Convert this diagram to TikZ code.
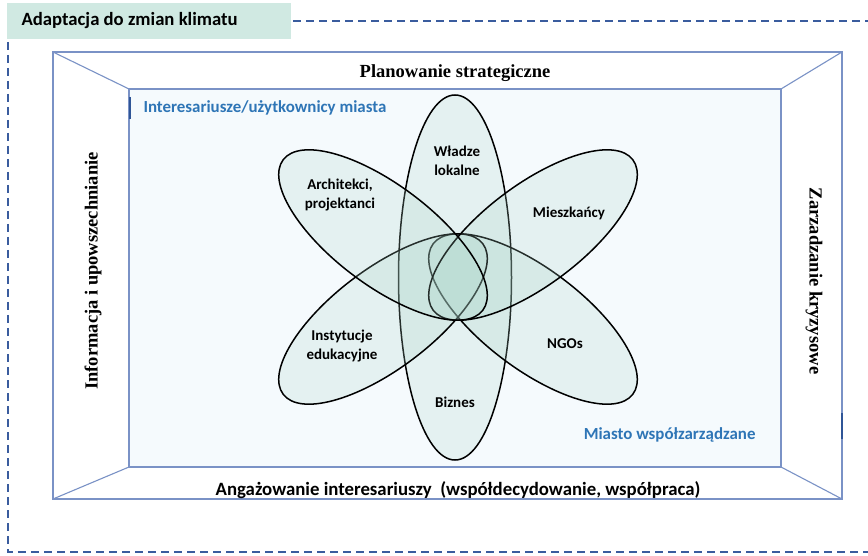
\documentclass[tikz,border=0pt]{standalone}
\usepackage{fontspec}
\setmainfont{Liberation Serif}
\newfontfamily\calfont{Carlito}
\definecolor{framebl}{HTML}{7A92C6}
\definecolor{dashbl}{HTML}{3A5C9E}
\definecolor{titlefill}{HTML}{D0E9E2}
\definecolor{innerfill}{HTML}{F5FAFD}
\definecolor{petalfill}{HTML}{A9D4C8}
\definecolor{labelbl}{HTML}{2E75B6}
\definecolor{tickbl}{HTML}{2F5597}
\tikzset{
  frameline/.style={draw=framebl, line width=1.1pt},
  dashline/.style={draw=dashbl, line width=1.8pt, dash pattern=on 8pt off 5pt},
  petal/.style={draw=black, line width=1.5pt, fill=petalfill, fill opacity=0.22},
  petallabel/.style={font=\calfont\bfseries\fontsize{15}{19}\selectfont, align=center, text=black},
  sidelabel/.style={font=\bfseries\fontsize{18.5}{21}\selectfont, text=black},
  bluelabel/.style={font=\calfont\bfseries\fontsize{16.9}{19}\selectfont, text=labelbl},
  tick/.style={draw=tickbl, line width=2pt}
}
\begin{document}
\begin{tikzpicture}[x=1pt, y=-1pt]
\useasboundingbox (0,0) rectangle (868,556);
% title box
\node[fill=titlefill, minimum width=284pt, minimum height=36pt, inner sep=0pt, anchor=north west] (title) at (7,3) {};
\node[font=\calfont\bfseries\fontsize{18.7}{21}\selectfont, anchor=west] (titletext) at (18,21) {Adaptacja do zmian klimatu};
% dashed frame
\coordinate (d1) at (293,21);
\coordinate (d2) at (868,21);
\coordinate (d3) at (8,42);
\coordinate (d4) at (8,552);
\coordinate (d5) at (868,552);
\draw[dashline] (d1) -- (d2);
\draw[dashline] (d3) -- (d4) -- (d5);
% outer box and inner box
\coordinate (o1) at (53,52);
\coordinate (o2) at (842,52);
\coordinate (o3) at (842,499);
\coordinate (o4) at (53,499);
\coordinate (i1) at (129,89);
\coordinate (i2) at (781,89);
\coordinate (i3) at (781,467);
\coordinate (i4) at (129,467);
\draw[frameline, fill=white] (o1) -- (o2) -- (o3) -- (o4) -- cycle;
\draw[frameline, fill=innerfill] (i1) -- (i2) -- (i3) -- (i4) -- cycle;
\draw[frameline] (o1) -- (i1);
\draw[frameline] (o2) -- (i2);
\draw[frameline] (o3) -- (i3);
\draw[frameline] (o4) -- (i4);
% small ticks
\coordinate (t1) at (129.5,97);
\coordinate (t2) at (129.5,119);
\coordinate (t3) at (842,413);
\coordinate (t4) at (842,439);
\draw[tick] (t1) -- (t2);
\draw[tick] (t3) -- (t4);
% side labels
\node[sidelabel] (plan) at (455,73) {Planowanie strategiczne};
\node[sidelabel, rotate=90] (info) at (93,271) {Informacja i upowszechnianie};
\node[sidelabel, rotate=-90] (zarz) at (814,281) {Zarzadzanie kryzysowe};
\node[font=\calfont\bfseries\fontsize{18.8}{21}\selectfont] (anga) at (458,490) {Anga\.zowanie interesariuszy\ \ (wsp\'o\l{}decydowanie, wsp\'o\l{}praca)};
\node[bluelabel, anchor=west] (inter) at (140,108) {Interesariusze/u\.zytkownicy miasta};
\node[bluelabel, anchor=east] (miasto) at (759,435) {Miasto wsp\'o\l{}zarz\k{a}dzane};
% petals
\draw[petal] (455,277.5) ellipse [x radius=56.5pt, y radius=182.5pt];
\draw[petal, shift={(533,319)}, rotate=-37] (0,0) ellipse [x radius=125pt, y radius=50pt];
\draw[petal, shift={(383,319)}, rotate=37] (0,0) ellipse [x radius=125pt, y radius=50pt];
\draw[petal, shift={(533,235)}, rotate=37] (0,0) ellipse [x radius=125pt, y radius=50pt];
\draw[petal, shift={(383,235)}, rotate=-37] (0,0) ellipse [x radius=125pt, y radius=50pt];
% petal labels
\node[petallabel] (wladze) at (457,161) {W\l{}adze\\lokalne};
\node[petallabel] (arch) at (340,195) {Architekci,\\projektanci};
\node[petallabel] (miesz) at (569,213) {Mieszka\'ncy};
\node[petallabel] (inst) at (342,346) {Instytucje\\edukacyjne};
\node[petallabel] (ngo) at (565,344) {NGOs};
\node[petallabel] (biz) at (455,402) {Biznes};
\end{tikzpicture}
\end{document}
